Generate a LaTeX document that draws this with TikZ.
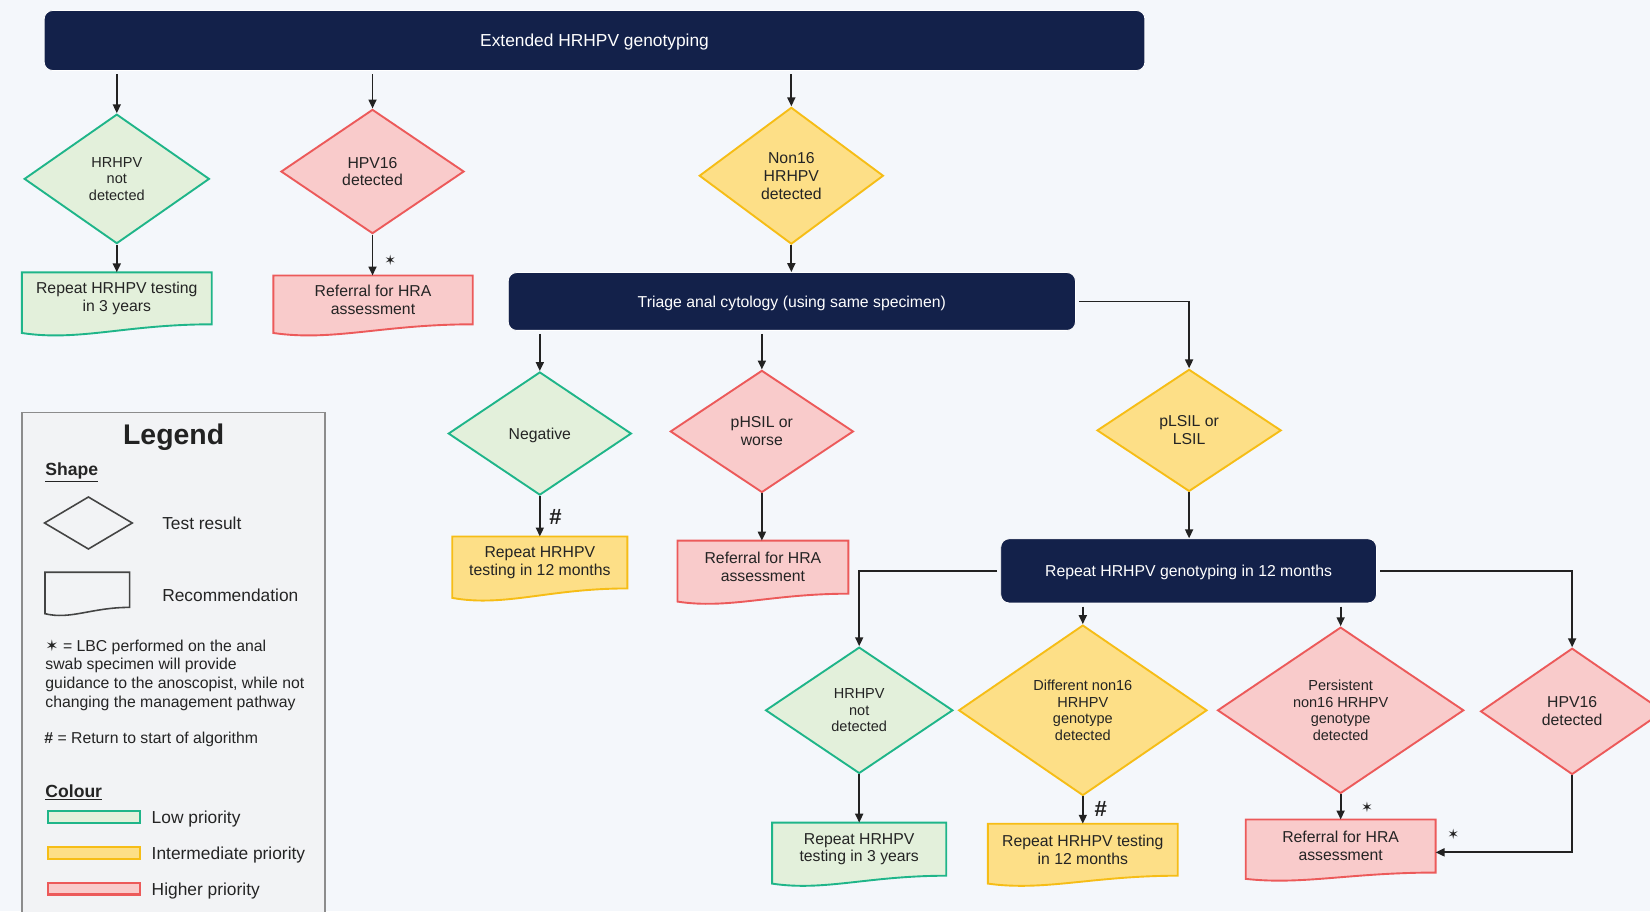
\documentclass[tikz,border=0pt]{standalone}
\usepackage{fontspec}
\setmainfont{Liberation Sans}
\newfontfamily\symf{DejaVu Sans}
\usetikzlibrary{shapes.geometric,arrows.meta,calc}
\definecolor{pagebg}{HTML}{F4F7FB}
\definecolor{navy}{HTML}{13214A}
\definecolor{ink}{HTML}{222222}
\definecolor{txt}{HTML}{242424}
\definecolor{lowF}{HTML}{E3F0DB}
\definecolor{lowD}{HTML}{1FB589}
\definecolor{midF}{HTML}{FDDF87}
\definecolor{midD}{HTML}{F6BD16}
\definecolor{highF}{HTML}{F9CBCB}
\definecolor{highD}{HTML}{EC5A5A}
\definecolor{legF}{HTML}{F2F3F5}
\definecolor{legD}{HTML}{8C8C8C}
\definecolor{legInk}{HTML}{444444}
\pgfdeclarelayer{bg}\pgfdeclarelayer{docs}\pgfsetlayers{bg,docs,main}
\newcommand\docshape[3]{%
  \begin{pgfonlayer}{docs}
  \draw[#2] let \p1=(#1.north west), \p2=(#1.south east), \n1={\x2-\x1} in
    (\x1,\y1) -- (\x2,\y1) -- (\x2,\y2)
    .. controls ({\x2-0.45*\n1},\y2) and ({\x1+0.3*\n1},{\y2-1.5*#3}) .. (\x1,{\y2-0.75*#3}) -- cycle;
  \end{pgfonlayer}}
\newcommand\sstar{{\symf ✶}}
\tikzset{
  fa/.style={font=\fontsize{15}{17}\selectfont},
  fb/.style={font=\fontsize{13.8}{15.7}\selectfont},
  fl/.style={font=\fontsize{16.5}{19}\selectfont},
  capa/.style={text height=10.7pt, text depth=0pt},
  capl/.style={text height=11.8pt, text depth=0pt},
  dia/.style={diamond, line width=1.8pt, inner sep=0pt, align=center, text=txt},
  low/.style={fill=lowF, draw=lowD},
  mid/.style={fill=midF, draw=midD},
  high/.style={fill=highF, draw=highD},
  lowdoc/.style={fill=lowF, draw=lowD, line width=1.8pt},
  middoc/.style={fill=midF, draw=midD, line width=1.8pt},
  highdoc/.style={fill=highF, draw=highD, line width=1.8pt},
  bar/.style={rectangle, rounded corners=8pt, fill=navy, draw=white, line width=0.8pt, text=white, fa, capa},
  docn/.style={rectangle, inner sep=0pt, align=center, text=txt, fa},
  arr/.style={-{Triangle[length=8.5pt,width=7.5pt]}, line width=1.8pt, draw=ink},
  starl/.style={font=\fontsize{13.5}{13.5}\selectfont, text=ink, inner sep=0pt},
  hashl/.style={font=\bfseries\fontsize{21}{21}\selectfont, text=ink, inner sep=0pt},
  legt/.style={anchor=west, inner sep=0pt, text=txt, fl, capl},
}
\begin{document}
\begin{tikzpicture}[x=1pt,y=-1pt]
\useasboundingbox (0,0) rectangle (1568,866);
\begin{pgfonlayer}{bg}
\fill[pagebg] (0,0) rectangle (1568,866);
\filldraw[fill=legF, draw=legD, line width=1.8pt] (21,392) rectangle (309,885);
\end{pgfonlayer}

% bars
\node[bar, minimum width=1046pt, minimum height=57pt, fl, capl] (Top) at (565,38.5) {Extended HRHPV genotyping};
\node[bar, minimum width=539pt, minimum height=55pt] (Tri) at (752.5,286.5) {Triage anal cytology (using same specimen)};
\node[bar, minimum width=357pt, minimum height=61pt] (Rep) at (1129.5,542.5) {Repeat HRHPV genotyping in 12 months};

% first level diamonds
\node[dia, low, fb, minimum width=176pt, minimum height=123pt] (A1) at (111,170) {HRHPV\\not\\detected};
\node[dia, high, fa, minimum width=174pt, minimum height=118pt] (A2) at (354,163) {HPV16\\detected};
\node[dia, mid, fa, minimum width=175pt, minimum height=130pt] (A3) at (752,167) {Non16\\HRHPV\\detected};

% first level docs
\node[docn, minimum width=180pt, minimum height=49pt] (D1) at (111,283.5) {Repeat HRHPV testing\\in 3 years};
\docshape{D1}{lowdoc}{11pt}
\node[docn, minimum width=189pt, minimum height=46pt] (D2) at (354.5,285) {Referral for HRA\\assessment};
\docshape{D2}{highdoc}{11pt}

% triage diamonds
\node[dia, low, fa, capa, minimum width=174pt, minimum height=117pt] (B1) at (513,412) {Negative};
\node[dia, high, fa, minimum width=174pt, minimum height=116pt] (B2) at (724,410) {pHSIL or\\worse};
\node[dia, mid, fa, minimum width=175pt, minimum height=116pt] (B3) at (1130,409) {pLSIL or\\LSIL};

\node[docn, minimum width=166pt, minimum height=49pt] (D3) at (513,534.5) {Repeat HRHPV\\testing in 12 months};
\docshape{D3}{middoc}{12pt}
\node[docn, minimum width=162pt, minimum height=50pt] (D4) at (725,539) {Referral for HRA\\assessment};
\docshape{D4}{highdoc}{10pt}

% repeat diamonds
\node[dia, low, fb, minimum width=178pt, minimum height=120pt] (C1) at (816.5,675) {HRHPV\\not\\detected};
\node[dia, mid, fb, minimum width=236pt, minimum height=162pt] (C2) at (1029,675) {Different non16\\HRHPV\\genotype\\detected};
\node[dia, high, fb, minimum width=234pt, minimum height=158pt] (C3) at (1274,675) {Persistent\\non16 HRHPV\\genotype\\detected};
\node[dia, high, fa, minimum width=174pt, minimum height=120pt] (C4) at (1494,676) {HPV16\\detected};

\node[docn, minimum width=165pt, minimum height=50pt] (D5) at (816.5,807) {Repeat HRHPV\\testing in 3 years};
\docshape{D5}{lowdoc}{10pt}
\node[docn, minimum width=180pt, minimum height=49pt] (D6) at (1029,807.5) {Repeat HRHPV testing\\in 12 months};
\docshape{D6}{middoc}{10pt}
\node[docn, minimum width=180pt, minimum height=50pt] (D7) at (1274,804) {Referral for HRA\\assessment};
\docshape{D7}{highdoc}{8pt}

% connectors
\draw[arr, shorten <=3pt] (A1.north |- Top.south) -- (A1.north);
\draw[arr, shorten <=3pt] (A2.north |- Top.south) -- (A2.north);
\draw[arr, shorten <=3pt] (A3.north |- Top.south) -- (A3.north);
\draw[arr] (A1.south) -- (D1.north);
\draw[arr] (A2.south) -- (A2.south |- D2.north);
\draw[arr] (A3.south) -- (A3.south |- Tri.north);
\draw[arr, shorten <=3pt] (B1.north |- Tri.south) -- (B1.north);
\draw[arr, shorten <=3pt] (B2.north |- Tri.south) -- (B2.north);
\draw[arr, shorten <=3pt] (Tri.east) -| (B3.north);
\draw[arr] (B1.south) -- (B1.south |- D3.north);
\draw[arr] (B2.south) -- (B2.south |- D4.north);
\draw[arr] (B3.south) -- (B3.south |- Rep.north);
\draw[arr, shorten <=3pt] (Rep.west) -| (C1.north);
\draw[arr, shorten <=3pt] (C2.north |- Rep.south) -- (C2.north);
\draw[arr, shorten <=3pt] (C3.north |- Rep.south) -- (C3.north);
\draw[arr, shorten <=3pt] (Rep.east) -| (C4.north);
\draw[arr] (C1.south) -- (C1.south |- D5.north);
\draw[arr] (C2.south) -- (C2.south |- D6.north);
\draw[arr] (C3.south) -- (C3.south |- D7.north);
\draw[arr] (C4.south) |- ([yshift=-6pt]D7.east);

% marks
\node[starl] (s1) at (371,247) {\sstar};
\node[starl] (s2) at (1299,767) {\sstar};
\node[starl] (s3) at (1381,793) {\sstar};
\node[hashl] (h1) at (528,491) {\#};
\node[hashl] (h2) at (1046,769) {\#};

% legend
\node[inner sep=0pt, text=ink, text height=19.4pt, text depth=0pt, font=\bfseries\fontsize{27}{30}\selectfont] (LT) at (165,413) {Legend};
\node[legt, text height=12pt, font=\bfseries\fontsize{16.7}{19}\selectfont] (LS) at (43,446) {\underline{Shape}};
\node[diamond, draw=legInk, line width=1.5pt, minimum width=84pt, minimum height=50pt, inner sep=0pt] (LD) at (84,497) {};
\node[legt] (LDt) at (154,497) {Test result};
\node[rectangle, inner sep=0pt, minimum width=80pt, minimum height=33pt] (LR) at (83,560.5) {};
\docshape{LR}{draw=legInk, line width=1.5pt, fill=legF}{8pt}
\node[legt] (LRt) at (154,566) {Recommendation};
\node[anchor=north west, inner sep=0pt, align=left, text=txt, font=\fontsize{15}{17.7}\selectfont] (LP) at (43,607.5) {\sstar{} = LBC performed on the anal\\swab specimen will provide\\guidance to the anoscopist, while not\\changing the management pathway};
\node[anchor=west, inner sep=0pt, text=txt, fa, capa] (LH) at (42,701) {\textbf{\#} = Return to start of algorithm};
\node[legt, text height=12pt, font=\bfseries\fontsize{16.7}{19}\selectfont] (LC) at (43,752) {\underline{Colour}};
\filldraw[lowdoc, line width=2pt] (46,771) rectangle (133,782);
\filldraw[middoc, line width=2pt] (46,805) rectangle (133,816);
\filldraw[highdoc, line width=2pt] (46,839) rectangle (133,850);
\node[legt] (L1) at (144,777) {Low priority};
\node[legt] (L2) at (144,811) {Intermediate priority};
\node[legt] (L3) at (144,845) {Higher priority};
\end{tikzpicture}
\end{document}
